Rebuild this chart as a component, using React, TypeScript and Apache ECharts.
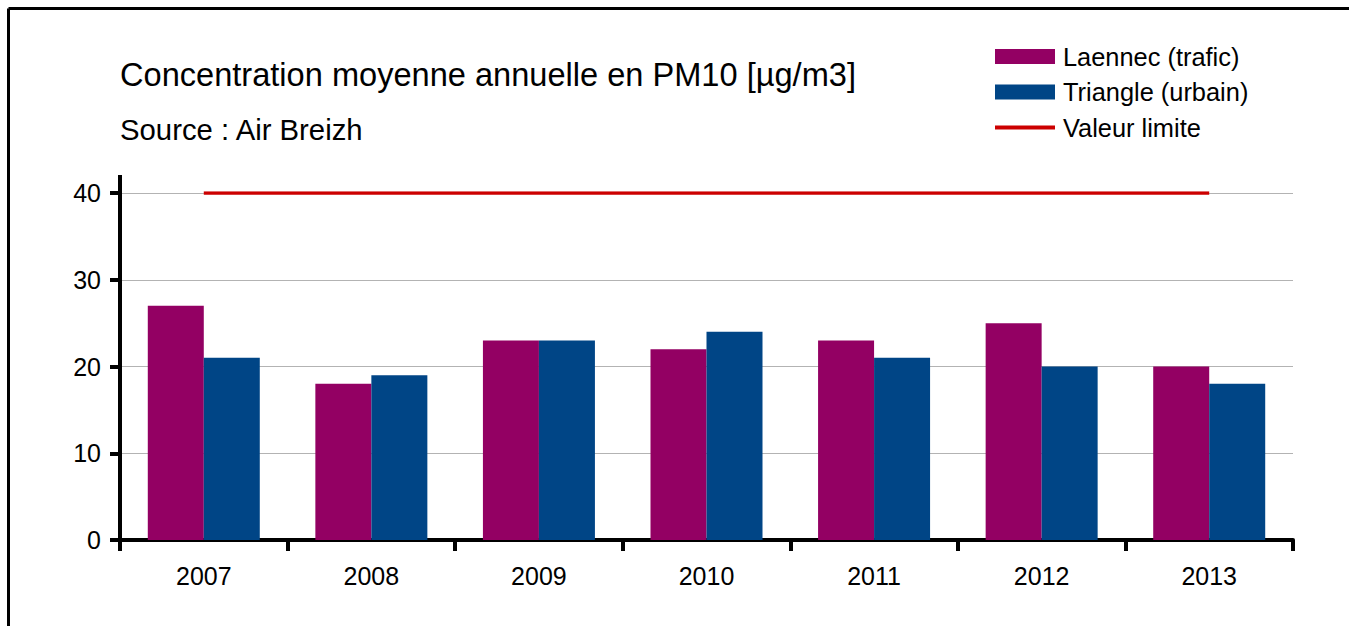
import React, { useEffect, useRef } from "react";
import * as echarts from "echarts";

const categories = ["2007", "2008", "2009", "2010", "2011", "2012", "2013"];
const laennec = [27, 18, 23, 22, 23, 25, 20];
const triangle = [21, 19, 23, 24, 21, 20, 18];
const limite = [40, 40, 40, 40, 40, 40, 40];
const yTicks = { min: 0, max: 40, interval: 10 };

const FONT = "Liberation Sans";

export default function App() {
  const ref = useRef<HTMLDivElement>(null);
  useEffect(() => {
    if (!ref.current) return;
    const chart = echarts.init(ref.current, null, { renderer: "svg" });
    chart.setOption({
      animation: false,
      backgroundColor: "#ffffff",
      textStyle: { fontFamily: FONT, color: "#000" },
      title: [
        {
          text: "Concentration moyenne annuelle en PM10 [µg/m3]",
          left: 120,
          top: 58,
          padding: 0,
          textStyle: { fontFamily: FONT, fontSize: 32.6, fontWeight: "normal", color: "#000" },
        },
        {
          text: "Source : Air Breizh",
          left: 120,
          top: 115,
          padding: 0,
          textStyle: { fontFamily: FONT, fontSize: 29.3, fontWeight: "normal", color: "#000" },
        },
      ],
      legend: {
        orient: "vertical",
        left: 993,
        top: 44,
        padding: 0,
        itemWidth: 60,
        itemHeight: 15,
        itemGap: 10.5,
        textStyle: { fontFamily: FONT, fontSize: 25.4, color: "#000", padding: [0, 0, 0, 3] },
        data: [
          { name: "Laennec (trafic)", icon: "rect" },
          { name: "Triangle (urbain)", icon: "rect" },
          {
            name: "Valeur limite",
            itemStyle: { color: "rgba(0,0,0,0)", borderWidth: 0, borderColor: "rgba(0,0,0,0)" },
            lineStyle: { color: "#cc0000", width: 4 },
          },
        ],
      },
      grid: { left: 120, right: 56, top: 193, bottom: 86, containLabel: false },
      xAxis: {
        type: "category",
        data: categories,
        boundaryGap: true,
        axisLine: { show: true, lineStyle: { color: "#000", width: 4 } },
        axisTick: { show: true, length: 11, alignWithLabel: false, lineStyle: { color: "#000", width: 4 } },
        axisLabel: { fontFamily: FONT, fontSize: 25, color: "#000", margin: 23 },
        splitLine: { show: false },
      },
      yAxis: {
        type: "value",
        min: yTicks.min,
        max: yTicks.max,
        interval: yTicks.interval,
        axisLine: { show: true, lineStyle: { color: "#000", width: 4 } },
        axisTick: { show: true, length: 10, lineStyle: { color: "#000", width: 4 } },
        axisLabel: { fontFamily: FONT, fontSize: 25, color: "#000", margin: 19 },
        splitLine: { show: true, lineStyle: { color: "#b3b3b3", width: 1 } },
      },
      graphic: [
        { type: "line", shape: { x1: 120, y1: 175, x2: 120, y2: 194 }, style: { stroke: "#000", lineWidth: 4 }, z: 100 },
        { type: "line", shape: { x1: 8.5, y1: 8.5, x2: 1349, y2: 8.5 }, style: { stroke: "#000", lineWidth: 3 } },
        { type: "line", shape: { x1: 8.5, y1: 8.5, x2: 8.5, y2: 626 }, style: { stroke: "#000", lineWidth: 3 } },
      ],
      series: [
        {
          name: "Laennec (trafic)",
          type: "bar",
          data: laennec,
          barWidth: 56,
          barGap: "0%",
          itemStyle: { color: "#930063" },
        },
        {
          name: "Triangle (urbain)",
          type: "bar",
          data: triangle,
          barWidth: 56,
          barGap: "0%",
          itemStyle: { color: "#004586" },
        },
        {
          name: "Valeur limite",
          type: "line",
          data: limite,
          symbol: "none",
          showSymbol: false,
          lineStyle: { color: "#cc0000", width: 3.5 },
          itemStyle: { color: "#cc0000" },
          z: 5,
        },
      ],
    });
    return () => chart.dispose();
  }, []);
  return (
    <div
      ref={ref}
      style={{ position: "absolute", left: 0, top: 0, width: 1349, height: 626 }}
    />
  );
}
